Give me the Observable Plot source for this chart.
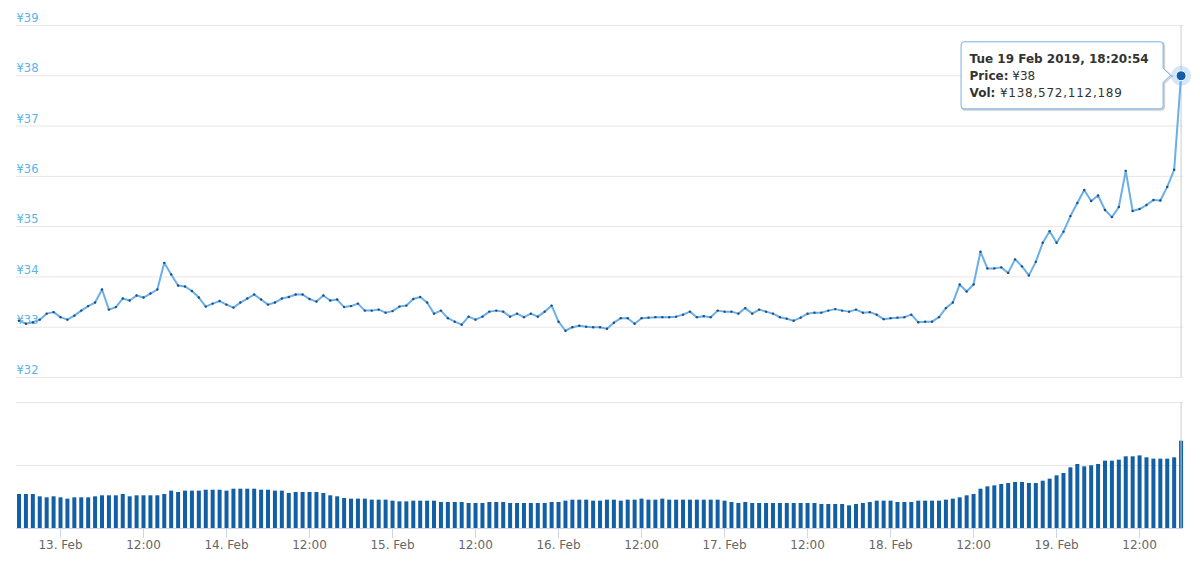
<!DOCTYPE html>
<html><head><meta charset="utf-8">
<script src="https://cdn.jsdelivr.net/npm/d3@7"></script>
<script src="https://cdn.jsdelivr.net/npm/@observablehq/plot@0.6"></script>
<style>
html,body{margin:0;padding:0;background:#fff;}
#wrap{position:relative;width:1200px;height:566px;overflow:hidden;font-family:"DejaVu Sans",sans-serif;}
#price,#vol{position:absolute;left:0;}
#price{top:0}
#vol{top:395px}
svg{overflow:visible}
</style></head><body><div id="wrap"><div id="price"></div><div id="vol"></div></div>
<script>
// hourly samples starting 12 Feb 2019 18:00 (UTC used as display time)
const startTime = "2019-02-12T18:00:00Z";
const xDomain = ["2019-02-12T17:38:20Z", "2019-02-19T18:21:00Z"];

// price in ¥
const prices = [
  33.13, 33.07, 33.10, 33.15, 33.27, 33.30, 33.20, 33.15, 33.23, 33.33, 33.42, 33.49, 33.75, 33.35, 33.40, 33.57, 33.53, 33.63, 33.59, 33.67, 33.75,
  34.28, 34.05, 33.83, 33.81, 33.72, 33.59, 33.41, 33.47, 33.52, 33.45, 33.39, 33.49, 33.57, 33.65, 33.55, 33.45, 33.49, 33.57, 33.60, 33.65,
  33.65, 33.56, 33.51, 33.63, 33.53, 33.55, 33.40, 33.42, 33.47, 33.33, 33.33, 33.35, 33.29, 33.32, 33.41, 33.43, 33.56, 33.60, 33.49, 33.27,
  33.33, 33.18, 33.11, 33.05, 33.21, 33.15, 33.21, 33.31, 33.33, 33.31, 33.21, 33.27, 33.20, 33.27, 33.21, 33.31, 33.43, 33.11, 32.93, 33.00,
  33.03, 33.01, 33.00, 33.00,
  32.97, 33.09, 33.18, 33.18, 33.07, 33.18, 33.19, 33.20, 33.20, 33.20, 33.21, 33.25, 33.31, 33.20, 33.22, 33.20, 33.33, 33.31, 33.31, 33.27,
  33.38, 33.27, 33.35, 33.31, 33.27, 33.20, 33.17, 33.13, 33.19, 33.27, 33.29, 33.29, 33.33, 33.36, 33.33, 33.31, 33.35, 33.29, 33.30, 33.25,
  33.16, 33.18, 33.19, 33.20, 33.25, 33.10,
  33.11, 33.11, 33.20, 33.38, 33.49, 33.85, 33.71, 33.85, 34.50, 34.17, 34.17, 34.19, 34.08, 34.35, 34.21, 34.03, 34.30, 34.68, 34.91, 34.68,
  34.90, 35.21, 35.47, 35.73, 35.51, 35.62, 35.33, 35.19, 35.39, 36.11, 35.31, 35.35, 35.43, 35.53, 35.52, 35.79, 36.13,
  38.00
];

// volume in billions of ¥
const volumesBn = [
  54.0, 54.0, 54.0, 50.3, 48.7, 50.3, 48.7, 46.6, 48.7, 48.7, 48.7, 50.3, 51.9, 51.9, 51.9, 54.0, 50.3, 51.9, 51.9, 51.9, 51.9, 54.0,
  59.3, 57.1, 59.3, 59.3, 59.3, 60.8, 60.8, 60.8, 59.3, 62.4, 62.4, 62.4, 62.4, 60.8, 60.8, 59.3, 59.3, 55.6, 57.1, 57.1, 57.1, 57.1,
  55.6, 51.9, 50.3, 47.6, 46.6, 46.6, 46.6, 45.0, 45.0, 45.0, 43.4, 42.3,
  42.3, 43.4, 43.4, 43.4, 43.4, 41.3, 41.3, 41.3, 41.3, 39.7, 39.7, 39.7, 41.3, 41.3, 41.3, 39.7, 39.7, 39.7, 39.7, 39.7,
  39.7, 41.3, 41.3, 43.4, 45.0, 45.0, 45.0, 43.4, 43.4, 45.0, 45.0, 43.4, 45.0, 45.0, 46.6, 45.0, 45.0, 46.6, 45.0, 45.0,
  45.0, 45.0, 45.0, 45.0, 45.0, 45.0, 43.4, 41.3, 39.7, 41.3, 39.7, 39.7, 39.7, 39.7, 39.7, 39.7, 39.7,
  39.7, 39.7, 39.7, 38.1, 38.1, 38.1, 38.1, 36.0, 38.1, 39.7, 41.3, 43.4, 43.4, 43.4, 41.3, 41.3, 41.3, 43.4, 43.4, 43.4,
  43.4, 45.0, 46.6, 48.7, 51.9, 54.0, 62.4, 66.1, 67.7, 69.8, 71.4, 73.0, 73.0, 71.4, 71.4, 75.1, 78.3, 83.6, 87.3, 96.3,
  101.6, 97.9, 99.5, 101.6, 106.9, 106.9, 108.5, 113.8, 113.8, 115.3, 112.2, 110.1, 110.1, 110.1, 112.2, 138.572112189
];

const priceTicks = [32, 33, 34, 35, 36, 37, 38, 39];
const volumeTicks = [100, 200];
const timeTicks = [
  "2019-02-13T00:00Z","2019-02-13T12:00Z","2019-02-14T00:00Z","2019-02-14T12:00Z",
  "2019-02-15T00:00Z","2019-02-15T12:00Z","2019-02-16T00:00Z","2019-02-16T12:00Z",
  "2019-02-17T00:00Z","2019-02-17T12:00Z","2019-02-18T00:00Z","2019-02-18T12:00Z",
  "2019-02-19T00:00Z","2019-02-19T12:00Z"
];
const tooltipTitle = "Tue 19 Feb 2019, 18:20:54";

const t0 = Date.parse(startTime);
const data = prices.map((p, i) => ({date: new Date(t0 + i * 3600e3), price: p, vol: volumesBn[i]}));
const last = data[data.length - 1];
const xDom = xDomain.map(d => new Date(d));
const tickDates = timeTicks.map(d => new Date(d));
const fmtTick = d => d.getUTCHours() === 0 ? `${d.getUTCDate()}. Feb` : "12:00";

const lineColor = "#6aafea";
const barColor = "#135fa5";

const priceChart = Plot.plot({
  width: 1200, height: 395,
  marginLeft: 16, marginRight: 17, marginTop: 25, marginBottom: 18,
  x: {type: "utc", domain: xDom, axis: null},
  y: {domain: [32, 39], axis: null},
  style: {fontFamily: "DejaVu Sans", fontSize: "11px", background: "transparent"},
  marks: [
    Plot.ruleY(priceTicks, {stroke: "#e6e6e6"}),
    Plot.text(priceTicks, {y: d => d, frameAnchor: "left", text: d => "¥" + d, textAnchor: "start", dy: -7, fill: "#5ab4ea", fontSize: 11.5}),
    Plot.ruleX([last], {x: "date", stroke: "#cccccc"}),
    Plot.line(data, {x: "date", y: "price", stroke: lineColor, strokeWidth: 2}),
    Plot.dot(data.slice(0, -1), {x: "date", y: "price", r: 1.2, fill: "#1d4f7e"}),
    Plot.dot([last], {x: "date", y: "price", r: 10, fill: lineColor, fillOpacity: 0.3}),
    Plot.dot([last], {x: "date", y: "price", r: 5, fill: barColor, stroke: "#fff", strokeWidth: 1})
  ]
});
document.getElementById("price").appendChild(priceChart);

// tooltip anchored to the last point through the chart's scales
{
  const px = priceChart.scale("x").apply(last.date);
  const py = priceChart.scale("y").apply(last.price);
  const x0 = px - 219.5, x1 = px - 17.5, y0 = py - 33.5, y1 = py + 33.5, r = 3, tipX = px - 10;
  const path = `M${x0 + r},${y0}H${x1 - r}Q${x1},${y0} ${x1},${y0 + r}V${py - 7}L${tipX},${py}L${x1},${py + 7}V${y1 - r}Q${x1},${y1} ${x1 - r},${y1}H${x0 + r}Q${x0},${y1} ${x0},${y1 - r}V${y0 + r}Q${x0},${y0} ${x0 + r},${y0}Z`;
  const g = d3.select(priceChart).append("g").attr("font-family", "DejaVu Sans").attr("fill", "#333").attr("text-anchor", "start");
  [[3, 0.05], [2, 0.08], [1, 0.12]].forEach(([w, o]) =>
    g.append("path").attr("d", path).attr("transform", "translate(1,1)").attr("fill", "none").attr("stroke", "#000").attr("stroke-opacity", o).attr("stroke-width", w));
  g.append("path").attr("d", path).attr("fill", "rgba(255,255,255,0.96)").attr("stroke", "#7cb5ec").attr("stroke-width", 1);
  const tx = x0 + 8.5;
  g.append("text").attr("x", tx).attr("y", y0 + 21).attr("font-size", 12).attr("font-weight", "bold").text(tooltipTitle);
  const l2 = g.append("text").attr("x", tx).attr("y", y0 + 38.5).attr("font-size", 12);
  l2.append("tspan").attr("font-weight", "bold").text("Price:");
  l2.append("tspan").text(" ¥" + last.price);
  const l3 = g.append("text").attr("x", tx).attr("y", y0 + 55).attr("font-size", 12);
  l3.append("tspan").attr("font-weight", "bold").text("Vol:");
  l3.append("tspan").attr("letter-spacing", 0.75).text(" ¥" + d3.format(",")(Math.round(last.vol * 1e9)));
}

const volChart = Plot.plot({
  width: 1200, height: 171,
  marginLeft: 16, marginRight: 17, marginTop: 7, marginBottom: 38,
  x: {type: "utc", domain: xDom, axis: null},
  y: {domain: [0, 200], axis: null},
  style: {fontFamily: "DejaVu Sans", fontSize: "12px", background: "transparent"},
  marks: [
    Plot.ruleY(volumeTicks, {stroke: "#e6e6e6"}),
    Plot.ruleX(data, {x: "date", y1: 0, y2: "vol", stroke: barColor, strokeWidth: 4}),
    Plot.ruleX([last], {x: "date", stroke: "#cccccc"}),
    Plot.ruleY([0], {stroke: "#ccd6eb"}),
    Plot.axisX(tickDates, {tickSize: 10, tickPadding: 2, stroke: "#ccd6eb", fill: "#666", tickFormat: fmtTick, fontSize: 12, label: null})
  ]
});
document.getElementById("vol").appendChild(volChart);
</script>
</body></html>
